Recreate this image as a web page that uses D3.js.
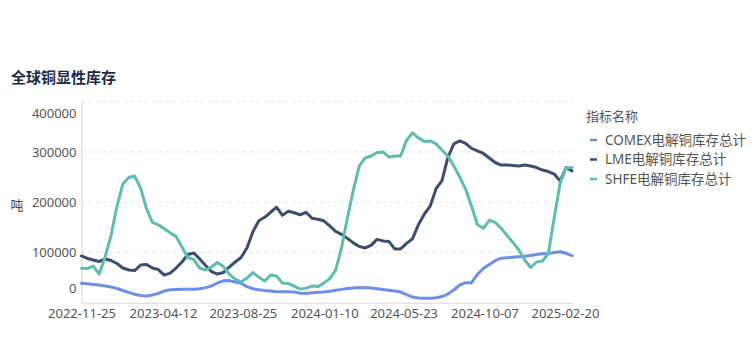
<!DOCTYPE html>
<html>
<head>
<meta charset="utf-8">
<script src="https://cdn.jsdelivr.net/npm/d3@7"></script>
<style>
  html, body { margin: 0; padding: 0; background: #fff; }
  svg { display: block; font-family: "Noto Sans", "Noto Sans CJK SC", sans-serif; }
</style>
</head>
<body>
<div id="chart"></div>
<script>
// ---- data ----
const startDate = "2022-11-25";
const stepDays = 10;
const seriesNames = ["COMEX电解铜库存总计", "LME电解铜库存总计", "SHFE电解铜库存总计"];
const comex = [38600, 37600, 36400, 35200, 33400, 31400, 28300, 24300, 20500, 16700,
  14500, 13300, 15300, 18500, 23300, 25700, 26300, 26700, 26700, 26700,
  27900, 30000, 33200, 39200, 43600, 44000, 41200, 38600, 32000, 27700,
  25700, 24300, 23300, 21900, 21900, 21900, 21500, 18700, 18100, 19700,
  20700, 21500, 22900, 24900, 26500, 28100, 29300, 30400, 29900, 29100,
  27900, 26300, 24700, 23300, 21300, 16300, 11300, 9400, 8800, 8800,
  9800, 12300, 17300, 25300, 35200, 39800, 39800, 56500, 68000, 76000,
  83600, 88600, 89400, 90300, 91300, 92500, 94100, 95900, 97300, 98100,
  99700, 101500, 98300, 93700];
const lme = [93000, 88000, 85000, 82000, 87000, 84000, 78000, 69000, 65000, 64000,
  75000, 76000, 69000, 66000, 55000, 59000, 69000, 81000, 96000, 99000,
  87000, 74000, 62000, 57000, 60000, 71000, 81000, 90000, 109000, 141000,
  163000, 170000, 180000, 190000, 174000, 182000, 179000, 175000, 180000, 168000,
  166000, 163000, 153000, 142000, 136000, 128000, 119000, 112000, 109000, 114000,
  126000, 123000, 122000, 107000, 107000, 118000, 127000, 155000, 176000, 192000,
  227000, 243000, 289000, 316000, 322000, 317000, 307000, 302000, 297000, 288000,
  279000, 274000, 274000, 273000, 272000, 274000, 272000, 269000, 264000, 261000,
  256000, 242000, 269000, 262000];
const shfe = [68500, 68000, 73000, 57000, 91000, 134000, 192000, 236000, 249000, 252000,
  228000, 187000, 160000, 155000, 147000, 139000, 132000, 111000, 90000, 86000,
  69000, 65000, 71000, 80000, 72000, 57000, 47000, 41000, 49000, 60000,
  51000, 43000, 55000, 53000, 39000, 38000, 33000, 27000, 29000, 33000,
  32000, 39000, 48000, 65000, 109000, 169000, 224000, 272000, 288000, 292000,
  299000, 300000, 290000, 292000, 292000, 323000, 338000, 328000, 321000, 322000,
  316000, 304000, 292000, 272000, 250000, 226000, 192000, 155000, 148000, 164000,
  160000, 148000, 134000, 120000, 105000, 85000, 70000, 81000, 83000, 98000,
  170000, 238000, 268000, 269000];
const xTickLabels = ["2022-11-25", "2023-04-12", "2023-08-25", "2024-01-10", "2024-05-23", "2024-10-07", "2025-02-20"];
const yTickValues = [0, 100000, 200000, 300000, 400000];
const colors = ["#6d8fe6", "#3d4e6d", "#5fbcae"];

// ---- chart ----
const W = 754, H = 357;
const parse = d3.timeParse("%Y-%m-%d");
const fmt = d3.timeFormat("%Y-%m-%d");
const t0 = parse(startDate);
const dates = comex.map((_, i) => d3.timeDay.offset(t0, i * stepDays));
const allSeries = [comex, lme, shfe];

const svg = d3.select("#chart").append("svg").attr("width", W).attr("height", H);

const x = d3.scaleTime().domain([dates[0], dates[dates.length - 1]]).range([81.5, 572]);
const y = d3.scaleLinear().domain([0, 400000]).range([302.7, 101.7]);

// title
svg.append("text").attr("x", 11).attr("y", 83)
  .attr("font-size", 15).attr("font-weight", "bold").attr("fill", "#1d2b45")
  .attr("font-family", "'Noto Sans CJK SC', sans-serif")
  .text("全球铜显性库存");

// gridlines
svg.append("g").selectAll("line").data(yTickValues.filter(v => v > 0)).join("line")
  .attr("x1", 81.5).attr("x2", 573).attr("y1", d => y(d)).attr("y2", d => y(d))
  .attr("stroke", "#e3e3e3").attr("stroke-width", 1).attr("stroke-dasharray", "4,3");

// y axis
const yAxis = svg.append("g").attr("transform", "translate(81.5,0)")
  .call(d3.axisLeft(y).tickValues(yTickValues).tickFormat(d3.format("d")).tickSize(0).tickPadding(5));
yAxis.select(".domain").attr("stroke", "#d6d6d6");
yAxis.selectAll("text").attr("font-size", 13).attr("fill", "#555")
  .attr("font-family", "'Noto Sans', 'Noto Sans CJK SC', sans-serif")
  .attr("dy", d => d === 400000 ? "1.25em" : (d === 0 ? "-0.75em" : "0.32em"));

// y title
svg.append("text").attr("x", 17).attr("y", 210).attr("text-anchor", "middle")
  .attr("font-size", 13).attr("fill", "#444")
  .attr("font-family", "'Noto Sans CJK SC', sans-serif").text("吨");

// x axis
const xAxis = svg.append("g").attr("transform", "translate(0,302.7)")
  .call(d3.axisBottom(x).tickValues(xTickLabels.map(parse)).tickFormat(fmt).tickSize(0).tickPadding(6));
xAxis.select(".domain").attr("stroke", "#d6d6d6");
xAxis.selectAll("text").attr("font-size", 13).attr("fill", "#555")
  .attr("font-family", "'Noto Sans', 'Noto Sans CJK SC', sans-serif");

// lines
const line = d3.line().x((d, i) => x(dates[i])).y(d => y(d));
svg.append("g").selectAll("path").data(allSeries).join("path")
  .attr("d", d => line(d))
  .attr("fill", "none")
  .attr("stroke", (d, i) => colors[i])
  .attr("stroke-width", 3)
  .attr("stroke-linejoin", "round")
  .attr("stroke-linecap", "round");

// legend
const lg = svg.append("g").attr("transform", "translate(586,0)");
lg.append("text").attr("x", 0).attr("y", 121).attr("font-size", 13).attr("fill", "#555")
  .attr("font-family", "'Noto Sans CJK SC', sans-serif").text("指标名称");
const items = lg.selectAll("g.item").data(seriesNames).join("g").attr("class", "item")
  .attr("transform", (d, i) => `translate(0,${140 + i * 19.5})`);
items.append("line").attr("x1", 4).attr("x2", 11).attr("y1", 0).attr("y2", 0)
  .attr("stroke", (d, i) => colors[i]).attr("stroke-width", 2.5);
items.append("text").attr("x", 19).attr("y", 0).attr("dy", "0.35em")
  .attr("font-size", 13.5).attr("fill", "#555").text(d => d);
</script>
</body>
</html>
